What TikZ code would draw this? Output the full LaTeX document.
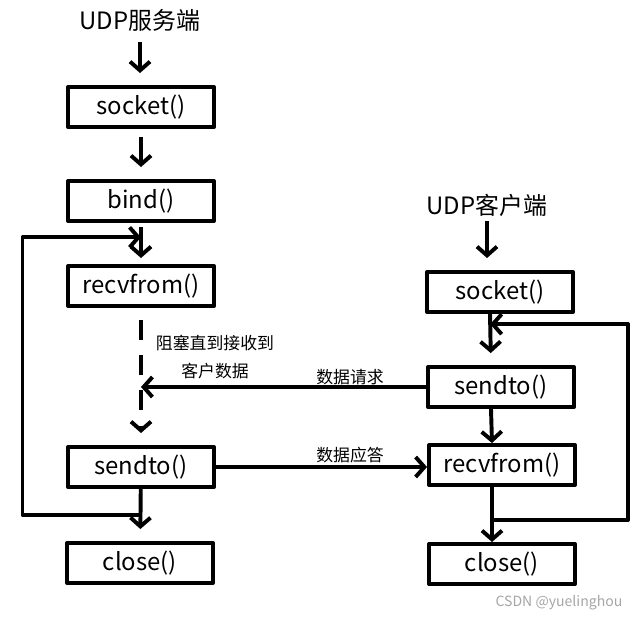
\documentclass[tikz,border=0pt]{standalone}
\usepackage{fontspec}
\setmainfont{Noto Sans CJK SC}
\usetikzlibrary{arrows.meta,calc}

\begin{document}
\begin{tikzpicture}[
    box/.style={draw, line width=2.8pt, minimum width=3.65cm, minimum height=1cm, font=\fontsize{17}{20}\selectfont},
    head/.style={font=\fontsize{17}{20}\selectfont},
    note/.style={font=\fontsize{12}{14}\selectfont},
    flow/.style={line width=2.8pt, -{Straight Barb[length=2.2mm,width=5mm]}},
    line join=round]
    % keep the page the size of the original
    \useasboundingbox (0,0) rectangle (16.05,-15.525);

    % Server side
\node at (3.5,-0.5) [head] (titleS) {UDP服务端};
\node at (3.525,-2.675) [box] (socketS) {socket()};
\node at (3.525,-5.025) [box] (bindS) {bind()};
\node at (3.525,-7.15) [box] (recvS) {recvfrom()};
\node at (3.525,-11.675) [box] (sendS) {sendto()};
\node at (3.5,-14.075) [box] (closeS) {close()};

\node at (5.375,-8.575) [note] (waitA) {阻塞直到接收到};
\node at (5.375,-9.275) [note] (waitB) {客户数据};

    % Client side
\node at (12.175,-5.125) [head] (titleC) {UDP客户端};
\node at (12.5,-7.3) [box] (socketC) {socket()};
\node at (12.525,-9.675) [box] (sendC) {sendto()};
\node at (12.55,-11.625) [box] (recvC) {recvfrom()};
\node at (12.55,-14.1) [box] (closeC) {close()};

    % labels on the messages
\node at (8.75,-9.425) [note] (askL) {数据请求};
\node at (8.75,-11.375) [note] (ansL) {数据应答};

    % server flow
\draw[flow, shorten <=1.5mm, shorten >=3mm] (titleS) -- (titleS |- socketS.north);
\draw[flow, shorten <=2mm, shorten >=3mm] (socketS) -- (bindS);
\draw[flow, shorten <=1mm, shorten >=1.5mm] (bindS) -- (recvS);
\draw[flow, dash pattern=on 5mm off 3.8mm, shorten <=3mm, shorten >=3mm] (recvS) -- (sendS);
\draw[flow, shorten >=3mm] (sendS) -- (closeS);

    % server loop back
\coordinate (backS) at ($(sendS.south)!0.5!(closeS.north)$);
\coordinate (intoS) at ($(bindS.south)!0.35!(recvS.north)$);
\draw[flow] (backS) -- ++(-2.95,0) |- (intoS);

    % client flow
\draw[flow, shorten >=3mm] (titleC) -- (titleC |- socketC.north);
\draw[flow, shorten >=3mm] ($(socketC.south)+(-0.25,0)$) -- ($(sendC.north)+(-0.25,0)$);
\draw[flow] ($(sendC.south)+(-0.25,0)$) -- ($(recvC.north)+(-0.25,0)$);
\draw[flow] ($(recvC.south)+(-0.25,0)$) -- ($(closeC.north)+(-0.25,0)$);

    % client loop back
\coordinate (backC) at ($(recvC.south)!0.6!(closeC.north)+(-0.25,0)$);
\coordinate (intoC) at ($(socketC.south)!0.2!(sendC.north)+(-0.25,0)$);
\draw[flow] (backC) -- ++(3.4,0) |- (intoC);

    % messages between the two sides
\coordinate (wait) at (recvS.south |- sendC.west);
\draw[flow] (sendC.west) -- (wait);
\draw[flow] (sendS.east) -- (sendS.east -| recvC.west);

\node at (13.975,-15.075) [text=gray!70, font=\fontsize{10}{12}\selectfont] (wm) {CSDN @yuelinghou};
\end{tikzpicture}
\end{document}
